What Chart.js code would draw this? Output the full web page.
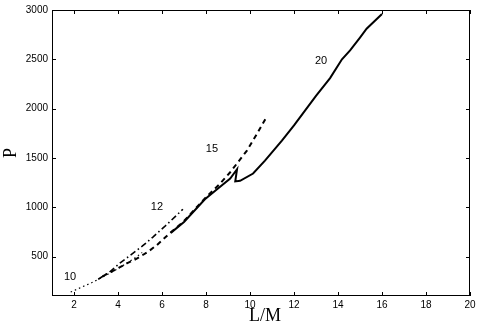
<!DOCTYPE html>
<html>
<head>
<meta charset="utf-8">
<script src="https://cdn.jsdelivr.net/npm/chart.js@4"></script>
<style>
  html, body { margin: 0; padding: 0; background: #fff; }
  #wrap { width: 480px; height: 327px; position: relative; }
</style>
</head>
<body>
<div id="wrap"><canvas id="c"></canvas></div>
<script>
// curve data: [L/M, P]
const curve10 = [[1.85, 140], [2.3, 185], [2.8, 235], [3.2, 280], [3.7, 340], [4.2, 405], [4.7, 475], [5.1, 540]];
const curve12 = [[3.1, 270], [3.6, 340], [4.1, 436], [4.6, 520], [5.1, 605], [5.6, 700], [6.1, 800], [6.6, 905], [6.95, 980]];
const curve15 = [[3.3, 300], [3.9, 370], [4.4, 430], [4.85, 478], [5.36, 548], [5.77, 617], [6.36, 738], [7.0, 860],
  [7.95, 1090], [8.6, 1230], [9.09, 1352], [9.86, 1574], [10.32, 1745], [10.7, 1895]];
const curve20 = [[6.4, 740], [7.0, 850], [7.95, 1080], [8.6, 1200], [9.1, 1290], [9.41, 1385], [9.33, 1262],
  [9.55, 1268], [10.14, 1342], [10.68, 1473], [11.45, 1675], [12.0, 1830], [12.5, 1980], [13.0, 2130],
  [13.64, 2310], [14.18, 2500], [14.55, 2590], [15.0, 2720], [15.3, 2810], [16.0, 2960]];

const xTicks = [2, 4, 6, 8, 10, 12, 14, 16, 18, 20];
const yTicks = [500, 1000, 1500, 2000, 2500, 3000];

// curve labels: [text, x, y]
const curveLabels = [["10", 1.82, 295], ["12", 5.77, 1000], ["15", 8.27, 1594], ["20", 13.23, 2486]];

const toPts = arr => arr.map(p => ({ x: p[0], y: p[1] }));

const tickFont = { family: '"Liberation Sans", Arial, sans-serif', size: 10 };

// box around the plot with inward ticks on all four sides, plus curve labels
const framePlugin = {
  id: "frame",
  afterDraw(chart) {
    const { ctx, chartArea: a, scales } = chart;
    ctx.save();
    ctx.strokeStyle = "#000";
    ctx.lineWidth = 1;
    ctx.strokeRect(a.left + 0.5, a.top + 0.5, a.right - a.left - 1, a.bottom - a.top - 1);
    ctx.beginPath();
    xTicks.forEach(v => {
      const px = Math.round(scales.x.getPixelForValue(v)) + 0.5;
      ctx.moveTo(px, a.bottom); ctx.lineTo(px, a.bottom - 4);
      ctx.moveTo(px, a.top); ctx.lineTo(px, a.top + 4);
    });
    yTicks.forEach(v => {
      const py = Math.round(scales.y.getPixelForValue(v)) + 0.5;
      ctx.moveTo(a.left, py); ctx.lineTo(a.left + 4, py);
      ctx.moveTo(a.right, py); ctx.lineTo(a.right - 4, py);
    });
    ctx.stroke();

    ctx.fillStyle = "#000";
    ctx.font = '11px "Liberation Sans", Arial, sans-serif';
    ctx.textAlign = "center";
    ctx.textBaseline = "middle";
    curveLabels.forEach(l => {
      ctx.fillText(l[0], scales.x.getPixelForValue(l[1]), scales.y.getPixelForValue(l[2]));
    });

    // axis titles
    ctx.font = '18px "Liberation Serif", "Times New Roman", serif';
    ctx.fillText("L/M", (a.left + a.right) / 2 + 4, 316);
    ctx.translate(11, (a.top + a.bottom) / 2);
    ctx.rotate(-Math.PI / 2);
    ctx.fillText("P", 0, 0);
    ctx.restore();
  },
};

const line = (data, width, dash) => ({
  data: toPts(data),
  borderColor: "#000",
  borderWidth: width,
  borderDash: dash,
  pointRadius: 0,
  fill: false,
  tension: 0,
});

new Chart(document.getElementById("c"), {
  type: "line",
  data: {
    datasets: [
      line(curve10, 1.2, [1.5, 3]),
      line(curve12, 1.6, [6, 3, 1.5, 3]),
      line(curve15, 2, [5, 4]),
      line(curve20, 2, []),
    ],
  },
  options: {
    responsive: true,
    maintainAspectRatio: false,
    animation: false,
    layout: { padding: { left: 0, right: 10, top: 8, bottom: 0 } },
    plugins: { legend: { display: false }, tooltip: { enabled: false } },
    scales: {
      x: {
        type: "linear",
        min: 1,
        max: 20,
        afterBuildTicks: s => { s.ticks = xTicks.map(v => ({ value: v })); },
        afterFit: s => { s.height = 31; },
        grid: { display: false, drawTicks: false },
        border: { display: false },
        ticks: { color: "#000", font: tickFont, padding: 3, maxRotation: 0, callback: v => String(v) },
      },
      y: {
        type: "linear",
        min: 100,
        max: 3000,
        afterBuildTicks: s => { s.ticks = yTicks.map(v => ({ value: v })); },
        afterFit: s => { s.width = 52; },
        grid: { display: false, drawTicks: false },
        border: { display: false },
        ticks: { color: "#000", font: tickFont, padding: 4, callback: v => String(v) },
      },
    },
  },
  plugins: [framePlugin],
});
</script>
</body>
</html>
